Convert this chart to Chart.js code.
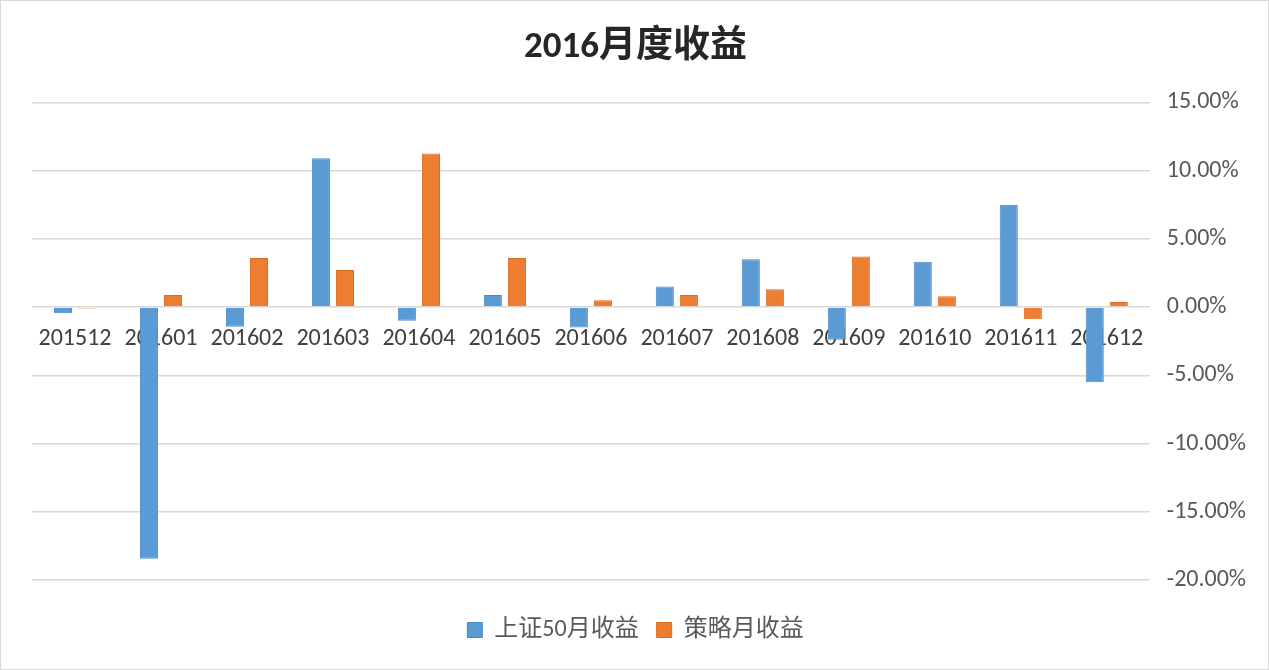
<!DOCTYPE html>
<html>
<head>
<meta charset="utf-8">
<script src="https://cdn.jsdelivr.net/npm/chart.js@4"></script>
<style>
    html, body { margin: 0; padding: 0; background: #fff; }
    #wrap { width: 1267px; height: 668px; border: 1px solid #d9d9d9; }
</style>
</head>
<body>
<div id="wrap"><canvas id="myChart" width="1267" height="668"></canvas></div>
<script>
const months = ['201512', '201601', '201602', '201603', '201604', '201605', '201606',
    '201607', '201608', '201609', '201610', '201611', '201612'];
// 上证50月收益 (%)
const sz50 = [-0.45, -18.45, -1.45, 10.9, -1.0, 0.88, -1.5, 1.5, 3.5, -2.4, 3.33, 7.5, -5.5];
// 策略月收益 (%)
const strategy = [-0.1, 0.88, 3.6, 2.72, 11.25, 3.6, 0.5, 0.88, 1.3, 3.7, 0.8, -0.9, 0.37];
const yTicks = [15, 10, 5, 0, -5, -10, -15, -20];

const fontFamily = 'Calibri, "Noto Sans", "Noto Sans CJK SC", sans-serif';

// nudge title and legend: legend down (gap above it), both centred on the canvas
const boxShift = {
    id: 'boxShift',
    afterLayout(chart) {
        chart.legend.top += 20;
        chart.legend.bottom += 20;
        chart.legend.left -= 12;
        chart.legend.right -= 12;
        chart.titleBlock.left -= 12;
        chart.titleBlock.right -= 12;
    }
};

const ctx = document.getElementById('myChart').getContext('2d');
new Chart(ctx, {
    type: 'bar',
    data: {
        labels: months,
        datasets: [{
            label: '上证50月收益',
            data: sz50,
            backgroundColor: '#5b9bd5',
            borderColor: '#4a8ac4',
            borderWidth: 1,
            categoryPercentage: 0.56,
            barPercentage: 0.75
        }, {
            label: '策略月收益',
            data: strategy,
            backgroundColor: '#ed7d31',
            borderColor: '#dc6c20',
            borderWidth: 1,
            categoryPercentage: 0.56,
            barPercentage: 0.75
        }]
    },
    plugins: [boxShift],
    options: {
        responsive: false,
        animation: false,
        layout: {
            padding: { left: 31, right: 5, top: 25, bottom: 37 }
        },
        scales: {
            x: {
                position: { y: 0 },
                grid: { display: false },
                border: { display: false },
                ticks: {
                    color: '#404040',
                    padding: 10,
                    font: { family: fontFamily, size: 24 }
                }
            },
            y: {
                position: 'right',
                min: -20,
                max: 15,
                afterBuildTicks: scale => {
                    scale.ticks = yTicks.map(v => ({ value: v }));
                },
                grid: {
                    color: '#d9d9d9',
                    lineWidth: 1.5,
                    drawTicks: false
                },
                border: { display: false },
                ticks: {
                    color: '#595959',
                    padding: 17,
                    font: { family: fontFamily, size: 24 },
                    callback: v => v.toFixed(2) + '%'
                }
            }
        },
        plugins: {
            title: {
                display: true,
                text: '2016月度收益',
                color: '#262626',
                font: { family: fontFamily, size: 37, weight: 'bold' },
                padding: { top: 0, bottom: 32 }
            },
            legend: {
                position: 'bottom',
                labels: {
                    color: '#595959',
                    boxWidth: 15,
                    boxHeight: 15,
                    padding: 18,
                    font: { family: fontFamily, size: 24 }
                }
            },
            tooltip: { enabled: false }
        }
    }
});
</script>
</body>
</html>
